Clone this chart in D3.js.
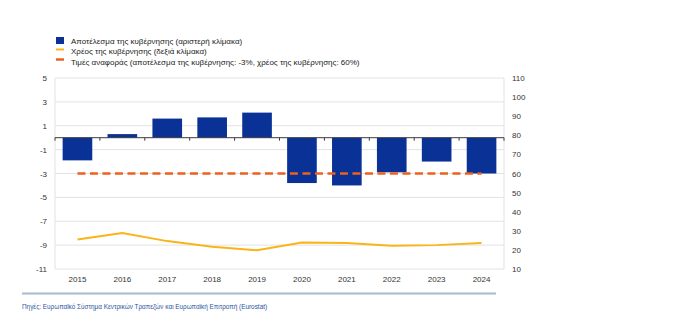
<!DOCTYPE html>
<html>
<head>
<meta charset="utf-8">
<script src="https://cdn.jsdelivr.net/npm/d3@7"></script>
<style>
  body { margin: 0; background: #fff; }
  svg text { font-family: "Liberation Sans", Arial, sans-serif; }
</style>
</head>
<body>
<svg id="chart" width="674" height="321"></svg>
<script>
// years on the x axis
const years = ["2015", "2016", "2017", "2018", "2019", "2020", "2021", "2022", "2023", "2024"];
// government balance, % of GDP (left scale)
const balance = [-1.9, 0.3, 1.6, 1.7, 2.1, -3.8, -4.0, -2.9, -2.0, -3.0];
// government debt, % of GDP (right scale)
const debt = [25.5, 28.8, 24.6, 21.7, 19.8, 23.9, 23.6, 22.2, 22.5, 23.6];
// reference values
const refBalance = -3;
const refDebt = 60;
const leftTicks = [5, 3, 1, -1, -3, -5, -7, -9, -11];
const rightTicks = [110, 100, 90, 80, 70, 60, 50, 40, 30, 20, 10];
const legendLabels = [
  "Αποτέλεσμα της κυβέρνησης (αριστερή κλίμακα)",
  "Χρέος της κυβέρνησης (δεξιά κλίμακα)",
  "Τιμές αναφοράς (αποτέλεσμα της κυβέρνησης: -3%, χρέος της κυβέρνησης: 60%)"
];
const sourceText = "Πηγές: Ευρωπαϊκό Σύστημα Κεντρικών Τραπεζών και Ευρωπαϊκή Επιτροπή (Eurostat)";

const svg = d3.select("#chart");
const plotL = 55, plotR = 504, plotT = 78, plotB = 269;

const x = d3.scaleBand().domain(years).range([plotL, plotR]).paddingInner(0.34).paddingOuter(0.17);
const xc = d => x(d) + x.bandwidth() / 2;
const yL = d3.scaleLinear().domain([-11, 5]).range([plotB, plotT]);
const yR = d3.scaleLinear().domain([10, 110]).range([plotB, plotT]);

// grid lines on the left ticks
svg.append("g")
  .selectAll("line")
  .data(leftTicks)
  .join("line")
  .attr("x1", plotL).attr("x2", plotR)
  .attr("y1", d => yL(d)).attr("y2", d => yL(d))
  .attr("stroke", "#e2e2e2").attr("stroke-width", 1);

// plot frame sides
svg.append("line").attr("x1", plotL).attr("x2", plotL).attr("y1", plotT).attr("y2", plotB)
  .attr("stroke", "#e2e2e2");
svg.append("line").attr("x1", plotR).attr("x2", plotR).attr("y1", plotT).attr("y2", plotB)
  .attr("stroke", "#e2e2e2");

// balance bars
svg.append("g")
  .selectAll("rect")
  .data(years.map((yr, i) => ({ yr, v: balance[i] })))
  .join("rect")
  .attr("x", d => x(d.yr))
  .attr("width", x.bandwidth())
  .attr("y", d => yL(Math.max(0, d.v)))
  .attr("height", d => Math.abs(yL(d.v) - yL(0)))
  .attr("fill", "#0a3196");

// zero line with small category ticks
const zero = svg.append("g");
zero.append("line")
  .attr("x1", plotL).attr("x2", plotR)
  .attr("y1", yL(0)).attr("y2", yL(0))
  .attr("stroke", "#3a3a3a").attr("stroke-width", 1);
const step = x.step();
zero.selectAll(".tk")
  .data(d3.range(years.length + 1))
  .join("line")
  .attr("class", "tk")
  .attr("x1", i => plotL + i * step).attr("x2", i => plotL + i * step)
  .attr("y1", yL(0)).attr("y2", yL(0) + 3)
  .attr("stroke", "#3a3a3a");

// reference line (-3% / 60%)
svg.append("line")
  .attr("x1", xc(years[0])).attr("x2", xc(years[years.length - 1]))
  .attr("y1", yR(refDebt)).attr("y2", yL(refBalance))
  .attr("stroke", "#ec6020").attr("stroke-width", 2.5)
  .attr("stroke-dasharray", "8,4.5");

// debt line
svg.append("path")
  .datum(debt)
  .attr("fill", "none")
  .attr("stroke", "#fbb418")
  .attr("stroke-width", 2)
  .attr("d", d3.line().x((d, i) => xc(years[i])).y(d => yR(d)));

// axes (plain hyphen for negatives)
const axisL = svg.append("g")
  .attr("transform", `translate(${plotL - 8},0)`)
  .call(d3.axisLeft(yL).tickValues(leftTicks).tickFormat(d => String(d)).tickSize(0).tickPadding(0));
const axisR = svg.append("g")
  .attr("transform", `translate(${plotR + 8},0)`)
  .call(d3.axisRight(yR).tickValues(rightTicks).tickFormat(d => String(d)).tickSize(0).tickPadding(0));
const axisB = svg.append("g")
  .attr("transform", `translate(0,${plotB + 4})`)
  .call(d3.axisBottom(x).tickSize(0).tickPadding(0));
[axisL, axisR, axisB].forEach(a => {
  a.select(".domain").remove();
  a.selectAll("text").attr("font-size", 8).attr("fill", "#333")
    .style("font-family", '"Liberation Sans", Arial, sans-serif');
});
axisB.selectAll("text").attr("dy", "1.1em");

// legend
const legend = svg.append("g");
legend.append("rect").attr("x", 56).attr("y", 37).attr("width", 8).attr("height", 7).attr("fill", "#0a3196");
legend.append("line").attr("x1", 56).attr("x2", 64).attr("y1", 49.5).attr("y2", 49.5)
  .attr("stroke", "#fbb418").attr("stroke-width", 2);
legend.append("line").attr("x1", 56).attr("x2", 64).attr("y1", 59.5).attr("y2", 59.5)
  .attr("stroke", "#ec6020").attr("stroke-width", 2.5);
legend.selectAll("text")
  .data(legendLabels)
  .join("text")
  .attr("x", 71)
  .attr("y", (d, i) => 43.5 + i * 10.5)
  .attr("font-size", 8)
  .attr("fill", "#222")
  .text(d => d);

// footer
svg.append("line").attr("x1", 22).attr("x2", 496).attr("y1", 293.5).attr("y2", 293.5)
  .attr("stroke", "#a7bad0").attr("stroke-width", 2);
svg.append("text")
  .attr("x", 22).attr("y", 309)
  .attr("font-size", 6.4)
  .attr("fill", "#2a55a0")
  .text(sourceText);
</script>
</body>
</html>
